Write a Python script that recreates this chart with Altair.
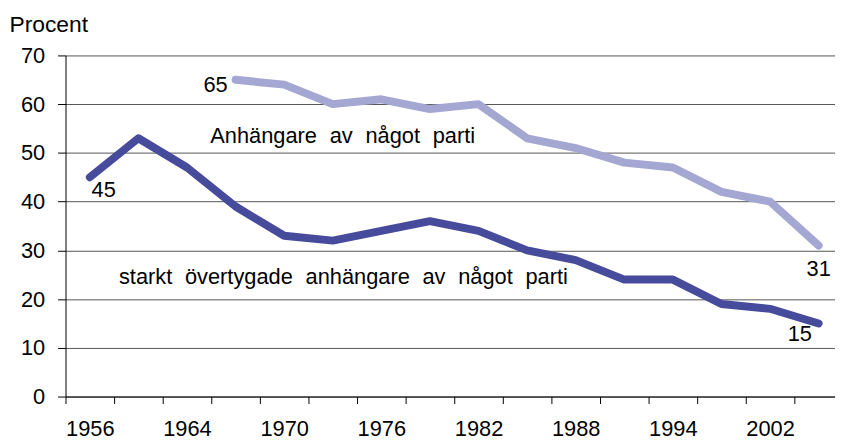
import altair as alt
import pandas as pd

years = ["1956", "1960", "1964", "1968", "1970", "1973", "1976", "1979",
         "1982", "1985", "1988", "1991", "1994", "1998", "2002", "2006"]
strong = [45, 53, 47, 39, 33, 32, 34, 36, 34, 30, 28, 24, 24, 19, 18, 15]
supporters = [None, None, None, 65, 64, 60, 61, 59, 60, 53, 51, 48, 47, 42, 40, 31]
series_names = ["Anhängare av något parti", "starkt övertygade anhängare av något parti"]
y_ticks = [0, 10, 20, 30, 40, 50, 60, 70]

rows = []
for i, yr in enumerate(years):
    if supporters[i] is not None:
        rows.append({"idx": i, "year": yr, "value": supporters[i], "series": series_names[0]})
    rows.append({"idx": i, "year": yr, "value": strong[i], "series": series_names[1]})
df = pd.DataFrame(rows)

FONT = "Liberation Sans"
FS = 22
BAND = 49.0
W = 776
H = 344
x_max = -0.5 + W / BAND
WS = "\u2002\u200a"  # slightly wider word spacing, as in the original

x_scale = alt.Scale(domain=[-0.5, x_max], nice=False, zero=False)
y_scale = alt.Scale(domain=[0, 70], nice=False)

year_arr = "[" + ",".join("'" + y + "'" for y in years) + "]"
x_axis = alt.Axis(
    values=[i - 0.5 for i in range(len(years))],
    labelExpr=f"((datum.value + 0.5) % 2 == 0) ? {year_arr}[datum.value + 0.5] : ''",
    labelOffset=BAND / 2,
    labelFlush=False,
    labelOverlap=False,
    tickSize=7,
    labelPadding=15,
    grid=False,
    title=None,
    domainColor="#000000",
    tickColor="#000000",
    labelFont=FONT,
    labelFontSize=FS,
    labelColor="#000000",
)
y_axis = alt.Axis(
    values=y_ticks,
    tickSize=8,
    labelPadding=13,
    grid=True,
    gridColor="#555555",
    gridWidth=1,
    domainColor="#000000",
    tickColor="#000000",
    labelFont=FONT,
    labelFontSize=FS,
    labelColor="#000000",
    title="Procent",
    titleAngle=0,
    titleAlign="left",
    titleBaseline="alphabetic",
    titleX=-57,
    titleY=-24,
    titleFont=FONT,
    titleFontSize=23,
    titleFontWeight="normal",
    titleColor="#000000",
)

lines = alt.Chart(df).mark_line(strokeWidth=8, strokeCap="round", strokeJoin="round").encode(
    x=alt.X("idx:Q", scale=x_scale, axis=x_axis),
    y=alt.Y("value:Q", scale=y_scale, axis=y_axis),
    color=alt.Color("series:N", scale=alt.Scale(domain=series_names, range=["#A5A7D3", "#474B9B"]), legend=None),
    detail="series:N",
)

def label(text, xi, yv, align="center", dx=0, dy=0):
    d = pd.DataFrame({"idx": [xi], "value": [yv], "t": [text]})
    return alt.Chart(d).mark_text(
        font=FONT, fontSize=FS, color="#000000", align=align, baseline="middle", dx=dx, dy=dy
    ).encode(
        x=alt.X("idx:Q", scale=x_scale),
        y=alt.Y("value:Q", scale=y_scale),
        text="t:N",
    )

layers = [
    lines,
    label(str(supporters[3]), 3, supporters[3], align="right", dx=-8, dy=5),
    label(str(strong[0]), 0, strong[0], dx=14, dy=13),
    label(str(supporters[15]), 15, supporters[15], dx=0, dy=24),
    label(str(strong[15]), 15, strong[15], dx=-19, dy=11),
    label(series_names[0].replace(" ", WS), 2.48, 53.5, align="left"),
    label(series_names[1].replace(" ", WS), 0.60, 24.6, align="left"),
]

chart = alt.layer(*layers).properties(
    width=W,
    height=H,
    autosize=alt.AutoSizeParams(type="none"),
    padding={"left": 58, "top": 46, "right": 0, "bottom": 42},
).configure(background="white").configure_view(stroke=None)

chart.save("out.html", embed_options={"renderer": "svg", "actions": False})
